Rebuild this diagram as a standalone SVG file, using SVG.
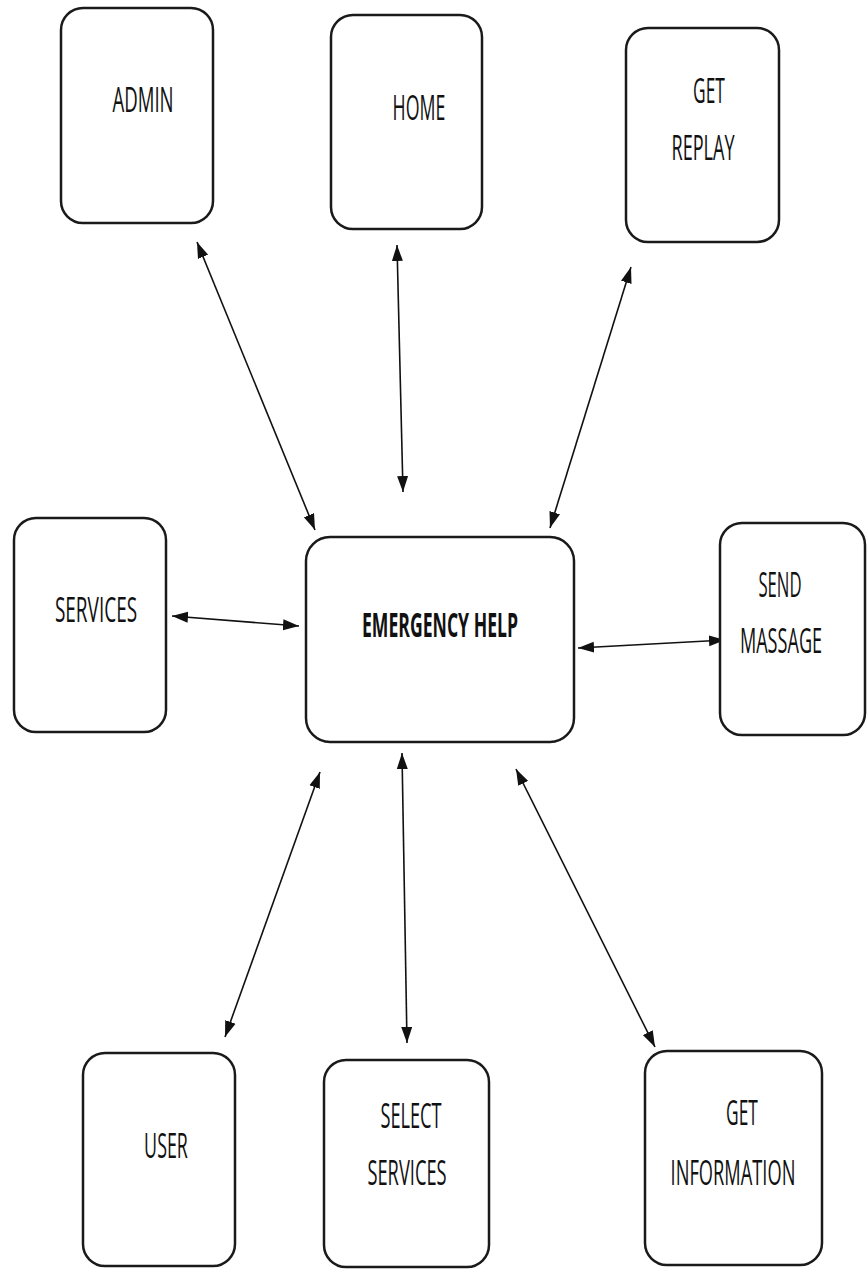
<svg xmlns="http://www.w3.org/2000/svg" width="867" height="1270" viewBox="0 0 867 1270">
<style>
.box{fill:#fff;stroke:#1a1a1a;stroke-width:2.5}
.lbl{font-family:"Open Sans","Liberation Sans",sans-serif;font-size:34px;fill:#111;text-anchor:middle}
.b{font-weight:bold}
.con{stroke:#111;stroke-width:1.6;fill:none;marker-start:url(#ah);marker-end:url(#ah)}
</style>
<defs>
<marker id="ah" markerUnits="userSpaceOnUse" markerWidth="18" markerHeight="12" refX="16" refY="6" orient="auto-start-reverse" viewBox="0 0 18 12">
<path d="M0,0.5 L16,6 L0,11.5 z" fill="#111"/>
</marker>
</defs>
<rect width="867" height="1270" fill="#fff"/>
<g id="connectors">
<line class="con" x1="315" y1="530" x2="197" y2="242"/>
<line class="con" x1="403" y1="492" x2="397" y2="245"/>
<line class="con" x1="550" y1="528" x2="631" y2="267"/>
<line class="con" x1="299" y1="626" x2="172" y2="616"/>
<line class="con" x1="578" y1="648" x2="725" y2="640"/>
<line class="con" x1="320" y1="772" x2="225" y2="1037"/>
<line class="con" x1="402" y1="753" x2="407" y2="1043"/>
<line class="con" x1="516" y1="769" x2="655" y2="1047"/>
</g>
<g id="admin">
<rect class="box" x="61" y="8" width="152" height="215" rx="22"/>
<text class="lbl" transform="translate(143,112) scale(0.6,1)" textLength="102" lengthAdjust="spacingAndGlyphs">ADMIN</text>
</g>
<g id="home">
<rect class="box" x="331" y="15" width="151" height="214" rx="22"/>
<text class="lbl" transform="translate(419,120) scale(0.6,1)" textLength="88" lengthAdjust="spacingAndGlyphs">HOME</text>
</g>
<g id="get-replay">
<rect class="box" x="626" y="28" width="153" height="214" rx="22"/>
<text class="lbl" transform="translate(709,103) scale(0.6,1)" textLength="53" lengthAdjust="spacingAndGlyphs">GET</text>
<text class="lbl" transform="translate(703,160) scale(0.6,1)" textLength="105" lengthAdjust="spacingAndGlyphs">REPLAY</text>
</g>
<g id="services">
<rect class="box" x="14" y="518" width="152" height="214" rx="22"/>
<text class="lbl" transform="translate(96,622) scale(0.6,1)" textLength="137" lengthAdjust="spacingAndGlyphs">SERVICES</text>
</g>
<g id="emergency-help">
<rect class="box" x="306" y="537" width="268" height="205" rx="24"/>
<text class="lbl b" transform="translate(440,637) scale(0.6,1)" textLength="260" lengthAdjust="spacingAndGlyphs">EMERGENCY HELP</text>
</g>
<g id="send-massage">
<rect class="box" x="720" y="523" width="145" height="212" rx="22"/>
<text class="lbl" transform="translate(780,597) scale(0.6,1)" textLength="72" lengthAdjust="spacingAndGlyphs">SEND</text>
<text class="lbl" transform="translate(781,653) scale(0.6,1)" textLength="137" lengthAdjust="spacingAndGlyphs">MASSAGE</text>
</g>
<g id="user">
<rect class="box" x="83" y="1053" width="152" height="213" rx="22"/>
<text class="lbl" transform="translate(166,1158) scale(0.6,1)" textLength="73" lengthAdjust="spacingAndGlyphs">USER</text>
</g>
<g id="select-services">
<rect class="box" x="324" y="1060" width="165" height="207" rx="22"/>
<text class="lbl" transform="translate(411,1128) scale(0.6,1)" textLength="102" lengthAdjust="spacingAndGlyphs">SELECT</text>
<text class="lbl" transform="translate(407,1185) scale(0.6,1)" textLength="132" lengthAdjust="spacingAndGlyphs">SERVICES</text>
</g>
<g id="get-information">
<rect class="box" x="645" y="1051" width="177" height="214" rx="22"/>
<text class="lbl" transform="translate(742,1125) scale(0.6,1)" textLength="53" lengthAdjust="spacingAndGlyphs">GET</text>
<text class="lbl" transform="translate(733,1185) scale(0.6,1)" textLength="208" lengthAdjust="spacingAndGlyphs">INFORMATION</text>
</g>
</svg>
